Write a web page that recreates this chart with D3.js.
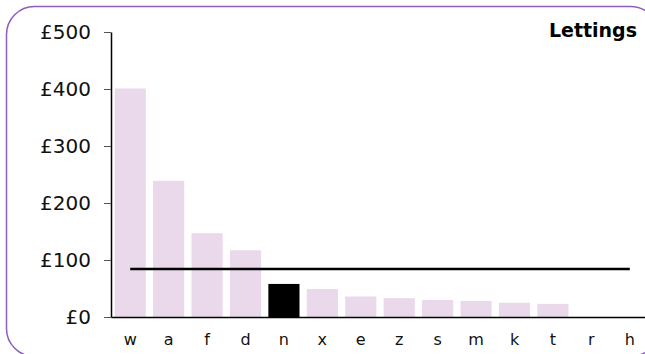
<!DOCTYPE html>
<html lang="en">
<head>
  <meta charset="UTF-8">
  <script src="https://cdn.jsdelivr.net/npm/d3@7/dist/d3.min.js"></script>
  <title>Lettings</title>
  <style>
    body { margin: 0; background: #fff; }
    * { font-family: 'DejaVu Sans', Verdana, sans-serif; }
    .y-axis text { font-size: 20px; fill: #111; }
    .x-axis text { font-size: 16px; fill: #111; }
    .title { font-size: 19px; font-weight: bold; text-anchor: end; }
  </style>
</head>
<body>
  <script>
    const categories = ['w', 'a', 'f', 'd', 'n', 'x', 'e', 'z', 's', 'm', 'k', 't', 'r', 'h'];
    const values = [401, 239, 147, 117, 58, 49, 36, 33, 30, 28, 25, 23, 0, 0];
    const highlight = 'n';
    const average = 84;
    const yTicks = [0, 100, 200, 300, 400, 500];

    const width = 645, height = 354;
    const plotLeft = 111, plotRight = 649, plotTop = 32, plotBottom = 317;

    const svg = d3.select('body').append('svg').attr('width', width).attr('height', height);

    // rounded frame, partly cut off at right and bottom
    svg.append('rect')
      .attr('x', 6.5).attr('y', 6.5).attr('width', 652).attr('height', 350)
      .attr('rx', 28).attr('ry', 28)
      .attr('fill', 'none').attr('stroke', '#8b5fba').attr('stroke-width', 1.5);

    const x = d3.scaleBand().domain(categories).range([plotLeft, plotRight]).paddingInner(0.19).paddingOuter(0.095);
    const y = d3.scaleLinear().domain([0, 500]).range([plotBottom, plotTop]);

    svg.selectAll('.bar')
      .data(categories.map((c, i) => ({ c, v: values[i] })))
      .enter().append('rect').attr('class', 'bar')
      .attr('x', d => x(d.c)).attr('width', x.bandwidth())
      .attr('y', d => y(d.v)).attr('height', d => y(0) - y(d.v))
      .attr('fill', d => d.c === highlight ? '#000' : '#ead8eb');

    // average line, from first to last band centre
    svg.append('line')
      .attr('x1', x(categories[0]) + x.bandwidth() / 2)
      .attr('x2', x(categories[categories.length - 1]) + x.bandwidth() / 2)
      .attr('y1', y(average)).attr('y2', y(average))
      .attr('stroke', '#000').attr('stroke-width', 2.5);

    const axisY = d3.axisLeft(y).tickValues(yTicks).tickFormat(d => '£' + d)
      .tickSize(7).tickSizeOuter(0).tickPadding(13);
    svg.append('g').attr('class', 'y-axis').attr('transform', `translate(${plotLeft},0)`).call(axisY);

    const axisX = d3.axisBottom(x).tickSize(0).tickSizeOuter(0).tickPadding(17);
    svg.append('g').attr('class', 'x-axis').attr('transform', `translate(0,${plotBottom})`).call(axisX);

    svg.selectAll('.domain').attr('stroke', '#000').attr('stroke-width', 1.5);
    svg.selectAll('.tick line').attr('stroke', '#555');

    svg.append('text').attr('class', 'title').attr('x', 637).attr('y', 37).text('Lettings');
  </script>
</body>
</html>
